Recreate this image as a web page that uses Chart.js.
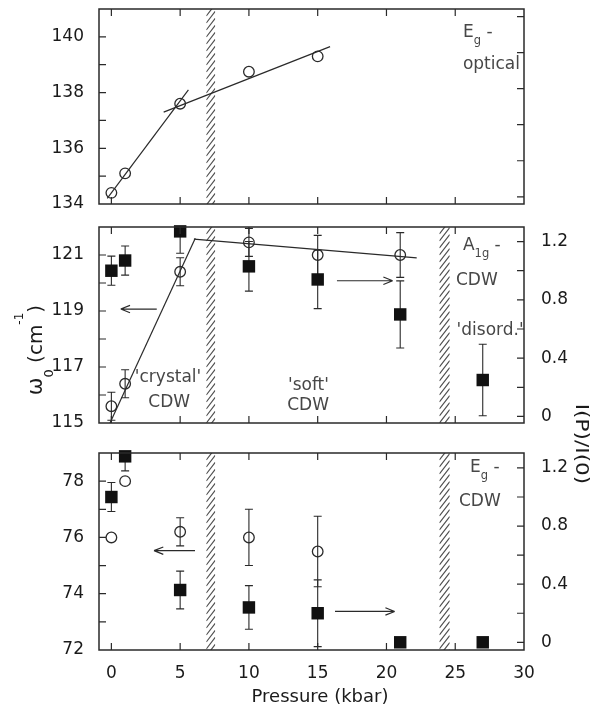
<!DOCTYPE html>
<html>
<head>
<meta charset="utf-8">
<script src="https://cdn.jsdelivr.net/npm/chart.js@4.4.1/dist/chart.umd.min.js"></script>
<style>
html, body { margin: 0; padding: 0; background: #fff; }
#fig { position: relative; width: 603px; height: 709px; overflow: hidden; }
#fig canvas { position: absolute; left: 0; }
</style>
</head>
<body>
<div id="fig">
  <canvas id="cTop" width="603" height="216" style="top:0px"></canvas>
  <canvas id="cMid" width="603" height="225" style="top:216px"></canvas>
  <canvas id="cBot" width="603" height="329" style="top:380px"></canvas>
</div>
<script>
// ---- values ----
const pressureTicks = [0, 5, 10, 15, 20, 25, 30];
const opticalTicks = [134, 136, 138, 140];
const a1gTicks = [115, 117, 119, 121];
const egTicks = [72, 74, 76, 78];
const ratioTicks = [0, 0.4, 0.8, 1.2];

// top: Eg optical mode
const opticalP = [0, 1, 5, 10, 15];
const opticalW = [134.4, 135.1, 137.6, 138.75, 139.3];
const opticalFitLowP = [-0.3, 5.6];
const opticalFitLowW = [134.2, 138.1];
const opticalFitHighP = [3.8, 15.9];
const opticalFitHighW = [137.3, 139.65];

// middle: A1g CDW mode
const a1gP = [0, 1, 5, 10, 15, 21];
const a1gW = [115.6, 116.4, 120.4, 121.45, 121.0, 121.0];
const a1gWErr = [0.5, 0.5, 0.5, 0.5, 0.7, 0.8];
const a1gIP = [0, 1, 5, 10, 15, 21, 27];
const a1gI = [1.0, 1.07, 1.27, 1.03, 0.94, 0.70, 0.25];
const a1gIErr = [0.1, 0.1, 0.15, 0.17, 0.2, 0.23, 0.245];
const a1gFitSteepP = [-0.1, 6.1];
const a1gFitSteepW = [115.0, 121.6];
const a1gFitFlatP = [6.0, 22.2];
const a1gFitFlatW = [121.57, 120.9];

// bottom: Eg CDW mode
const egP = [0, 1, 5, 10, 15];
const egW = [76.0, 78.0, 76.2, 76.0, 75.5];
const egWErr = [0, 0, 0.5, 1.0, 1.25];
const egIP = [0, 1, 5, 10, 15, 21, 27];
const egI = [1.0, 1.28, 0.36, 0.24, 0.2, 0.0, 0.0];
const egIErr = [0.1, 0.1, 0.13, 0.15, 0.23, 0, 0];

// phase boundaries (kbar)
const phaseBounds = [[6.9, 7.55], [23.85, 24.6]];

// ---- styling ----
const FONT = '"DejaVu Sans", sans-serif';
const INK = '#2a2a2a';
const LABEL = '#1a1a1a';
const NOTE = '#474747';

function pts(xs, ys) {
    return xs.map((x, i) => ({ x: x, y: ys[i] }));
}

function fixBox(size) {
    return function (scale) {
        if (scale.isHorizontal()) scale.height = size; else scale.width = size;
        scale.paddingTop = scale.paddingBottom = scale.paddingLeft = scale.paddingRight = 0;
    };
}

function labelOnly(list, fmt) {
    return function (v) {
        return list.some(t => Math.abs(t - v) < 1e-6) ? fmt(v) : '';
    };
}

const fmtInt = v => String(Math.round(v));
const fmtRatio = v => (Math.abs(v) < 1e-6 ? '0' : v.toFixed(1));

function xScale(height, showLabels) {
    return {
        type: 'linear', min: -0.9, max: 30,
        grid: { display: false }, border: { display: false },
        ticks: {
            display: showLabels, stepSize: 5, includeBounds: false, padding: 5,
            autoSkip: false, maxRotation: 0,
            font: { family: FONT, size: 17 }, color: LABEL,
            callback: labelOnly(pressureTicks, fmtInt)
        },
        afterFit: fixBox(height)
    };
}

function yScale(pos, min, max, step, labels, fmt, width, showLabels) {
    return {
        type: 'linear', position: pos, min: min, max: max,
        grid: { display: false }, border: { display: false },
        ticks: {
            display: showLabels, stepSize: step, includeBounds: false,
            padding: pos === 'left' ? 7 : 9, autoSkip: false,
            font: { family: FONT, size: 17 }, color: LABEL,
            callback: labels ? labelOnly(labels, fmt) : () => ''
        },
        afterFit: fixBox(width)
    };
}

function circleSet(data, axis) {
    return {
        data: data, yAxisID: axis, showLine: false, clip: false,
        pointStyle: 'circle', pointRadius: 5.3, pointBorderWidth: 1.3,
        pointBorderColor: INK, pointBackgroundColor: 'rgba(0,0,0,0)'
    };
}

function squareSet(data, axis) {
    return {
        data: data, yAxisID: axis, showLine: false, clip: false,
        pointStyle: 'rect', pointRadius: 8.8, pointBorderWidth: 0,
        pointBorderColor: '#111', pointBackgroundColor: '#111'
    };
}

function fitSet(data) {
    return {
        data: data, yAxisID: 'y', showLine: true, pointRadius: 0,
        borderColor: INK, borderWidth: 1.2, fill: false
    };
}

function drawRuns(ctx, runs, x, y, align) {
    const items = runs.map(([t, size, dy]) => {
        ctx.font = size + 'px ' + FONT;
        return { t, size, dy, w: ctx.measureText(t).width };
    });
    const total = items.reduce((s, r) => s + r.w, 0);
    let cx = align === 'center' ? x - total / 2 : x;
    ctx.textAlign = 'left';
    ctx.textBaseline = 'alphabetic';
    items.forEach(r => {
        ctx.font = r.size + 'px ' + FONT;
        ctx.fillText(r.t, cx, y + r.dy);
        cx += r.w;
    });
}

const plain = t => [[t, 17, 0]];
const withSub = (a, s, b) => [[a, 17, 0], [s, 11.5, 7], [b, 17, 0]];

function makeDecor(cfg) {
    return {
        id: 'decor',
        beforeDatasetsDraw(chart) {
            const { ctx, chartArea: a, scales } = chart;
            ctx.save();
            ctx.beginPath();
            ctx.rect(a.left, a.top, a.width, a.height);
            ctx.clip();

            // hatched phase boundaries
            ctx.strokeStyle = '#505050';
            ctx.lineWidth = 1.2;
            (cfg.bands || []).forEach(([p1, p2]) => {
                const x1 = scales.x.getPixelForValue(p1);
                const x2 = scales.x.getPixelForValue(p2);
                const rise = (x2 - x1) * 1.3;
                ctx.save();
                ctx.beginPath();
                ctx.rect(x1, a.top, x2 - x1, a.height);
                ctx.clip();
                ctx.beginPath();
                for (let y = a.top; y < a.bottom + rise; y += 7) {
                    ctx.moveTo(x1, y);
                    ctx.lineTo(x2, y - rise);
                }
                ctx.stroke();
                ctx.restore();
            });

            // error bars
            ctx.strokeStyle = INK;
            ctx.lineWidth = 1.1;
            (cfg.errors || []).forEach(({ ds, err }) => {
                const meta = chart.getDatasetMeta(ds);
                const ys = scales[meta.yAxisID];
                ctx.beginPath();
                chart.data.datasets[ds].data.forEach((p, i) => {
                    if (!err[i]) return;
                    const px = scales.x.getPixelForValue(p.x);
                    const top = ys.getPixelForValue(p.y + err[i]);
                    const bot = ys.getPixelForValue(p.y - err[i]);
                    ctx.moveTo(px, top); ctx.lineTo(px, bot);
                    ctx.moveTo(px - 4, top); ctx.lineTo(px + 4, top);
                    ctx.moveTo(px - 4, bot); ctx.lineTo(px + 4, bot);
                });
                ctx.stroke();
            });
            ctx.restore();
        },
        afterDraw(chart) {
            const { ctx, chartArea: a, scales } = chart;
            ctx.save();

            // frame and inward ticks
            ctx.strokeStyle = INK;
            ctx.lineWidth = 1.5;
            ctx.strokeRect(a.left, a.top, a.width, a.height);
            ctx.lineWidth = 1.2;
            ctx.beginPath();
            scales.x.ticks.forEach(t => {
                const px = scales.x.getPixelForValue(t.value);
                if (px < a.left + 2 || px > a.right - 2) return;
                ctx.moveTo(px, a.bottom); ctx.lineTo(px, a.bottom - 7);
                ctx.moveTo(px, a.top); ctx.lineTo(px, a.top + 7);
            });
            scales.y.ticks.forEach(t => {
                const py = scales.y.getPixelForValue(t.value);
                if (py < a.top + 2 || py > a.bottom - 2) return;
                ctx.moveTo(a.left, py); ctx.lineTo(a.left + 7, py);
            });
            scales.y2.ticks.forEach(t => {
                const py = scales.y2.getPixelForValue(t.value);
                if (py < a.top + 2 || py > a.bottom - 2) return;
                ctx.moveTo(a.right, py); ctx.lineTo(a.right - 7, py);
            });
            ctx.stroke();

            // arrows pointing to the relevant axis
            ctx.strokeStyle = INK;
            ctx.lineWidth = 1.2;
            (cfg.arrows || []).forEach(ar => {
                const x1 = scales.x.getPixelForValue(ar.from[0]);
                const y1 = scales.y.getPixelForValue(ar.from[1]);
                const x2 = scales.x.getPixelForValue(ar.to[0]);
                const y2 = scales.y.getPixelForValue(ar.to[1]);
                const ang = Math.atan2(y2 - y1, x2 - x1);
                ctx.beginPath();
                ctx.moveTo(x1, y1); ctx.lineTo(x2, y2);
                [0.38, -0.38].forEach(d => {
                    ctx.moveTo(x2, y2);
                    ctx.lineTo(x2 - 10 * Math.cos(ang + d), y2 - 10 * Math.sin(ang + d));
                });
                ctx.stroke();
            });

            // annotations
            ctx.fillStyle = NOTE;
            (cfg.notes || []).forEach(n => {
                drawRuns(ctx, n.runs, scales.x.getPixelForValue(n.at[0]),
                    scales.y.getPixelForValue(n.at[1]), n.align);
            });

            if (cfg.extra) cfg.extra(ctx, chart);
            ctx.restore();
        }
    };
}

function panel(id, cfg) {
    return new Chart(document.getElementById(id), {
        type: 'scatter',
        data: { datasets: cfg.datasets },
        options: {
            responsive: false,
            animation: false,
            events: [],
            layout: { padding: { top: cfg.top, left: 0, right: 0, bottom: 0 } },
            plugins: { legend: { display: false }, tooltip: { enabled: false } },
            scales: cfg.scales
        },
        plugins: [makeDecor(cfg)]
    });
}

// ---- top panel: Eg optical ----
panel('cTop', {
    top: 9,
    datasets: [
        fitSet(pts(opticalFitLowP, opticalFitLowW)),
        fitSet(pts(opticalFitHighP, opticalFitHighW)),
        circleSet(pts(opticalP, opticalW), 'y')
    ],
    scales: {
        x: xScale(12, false),
        y: yScale('left', 134, 141, 1, opticalTicks, fmtInt, 99, true),
        y2: yScale('right', -0.2, 5.21, 1, null, null, 79, false)
    },
    bands: [phaseBounds[0]],
    notes: [
        { runs: withSub('E', 'g', ' -'), at: [25.56, 139.99] },
        { runs: plain('optical'), at: [25.56, 138.84] }
    ]
});

// ---- middle panel: A1g CDW ----
panel('cMid', {
    top: 11,
    datasets: [
        fitSet(pts(a1gFitSteepP, a1gFitSteepW)),
        fitSet(pts(a1gFitFlatP, a1gFitFlatW)),
        circleSet(pts(a1gP, a1gW), 'y'),
        squareSet(pts(a1gIP, a1gI), 'y2')
    ],
    scales: {
        x: xScale(18, false),
        y: yScale('left', 115, 122, 1, a1gTicks, fmtInt, 99, true),
        y2: yScale('right', -0.045, 1.30, 0.2, ratioTicks, fmtRatio, 79, true)
    },
    bands: phaseBounds,
    errors: [{ ds: 2, err: a1gWErr }, { ds: 3, err: a1gIErr }],
    arrows: [
        { from: [3.3, 119.07], to: [0.68, 119.07] },
        { from: [16.4, 120.08], to: [20.45, 120.08] }
    ],
    notes: [
        { runs: withSub('A', '1g', ' -'), at: [25.56, 121.19] },
        { runs: plain('CDW'), at: [25.05, 119.94] },
        { runs: plain("'disord.'"), at: [25.1, 118.15] },
        { runs: plain("'crystal'"), at: [4.12, 116.48], align: 'center' },
        { runs: plain('CDW'), at: [4.2, 115.58], align: 'center' },
        { runs: plain("'soft'"), at: [14.33, 116.19], align: 'center' },
        { runs: plain('CDW'), at: [14.3, 115.48], align: 'center' }
    ],
    extra(ctx) {
        // left axis title, reads bottom to top
        ctx.save();
        ctx.fillStyle = LABEL;
        ctx.translate(42, 134);
        ctx.rotate(-Math.PI / 2);
        drawRuns(ctx, [['\u03c9', 21, 0], ['0', 13, 11], [' (cm', 20, 0], ['-1', 12, -19], [')', 20, 0]], 0, 0, 'center');
        ctx.restore();
    }
});

// ---- bottom panel: Eg CDW ----
panel('cBot', {
    top: 73,
    datasets: [
        circleSet(pts(egP, egW), 'y'),
        squareSet(pts(egIP, egI), 'y2')
    ],
    scales: {
        x: xScale(59, true),
        y: yScale('left', 72, 79, 1, egTicks, fmtInt, 99, true),
        y2: yScale('right', -0.053, 1.303, 0.2, ratioTicks, fmtRatio, 79, true)
    },
    bands: phaseBounds,
    errors: [{ ds: 0, err: egWErr }, { ds: 1, err: egIErr }],
    arrows: [
        { from: [6.08, 75.53], to: [3.1, 75.53] },
        { from: [16.26, 73.37], to: [20.6, 73.37] }
    ],
    notes: [
        { runs: withSub('E', 'g', ' -'), at: [26.07, 78.31] },
        { runs: plain('CDW'), at: [25.27, 77.10] }
    ],
    extra(ctx) {
        ctx.fillStyle = LABEL;
        // x axis title
        ctx.font = '18px ' + FONT;
        ctx.textAlign = 'center';
        ctx.textBaseline = 'alphabetic';
        ctx.fillText('Pressure (kbar)', 320, 322);
        // right axis title, reads top to bottom
        ctx.save();
        ctx.translate(581, 64);
        ctx.rotate(Math.PI / 2);
        ctx.scale(1.2, 1);
        ctx.font = '18px ' + FONT;
        ctx.textAlign = 'center';
        ctx.textBaseline = 'middle';
        ctx.fillText('I(P)/I(0)', 0, 0);
        ctx.restore();
    }
});
</script>
</body>
</html>
